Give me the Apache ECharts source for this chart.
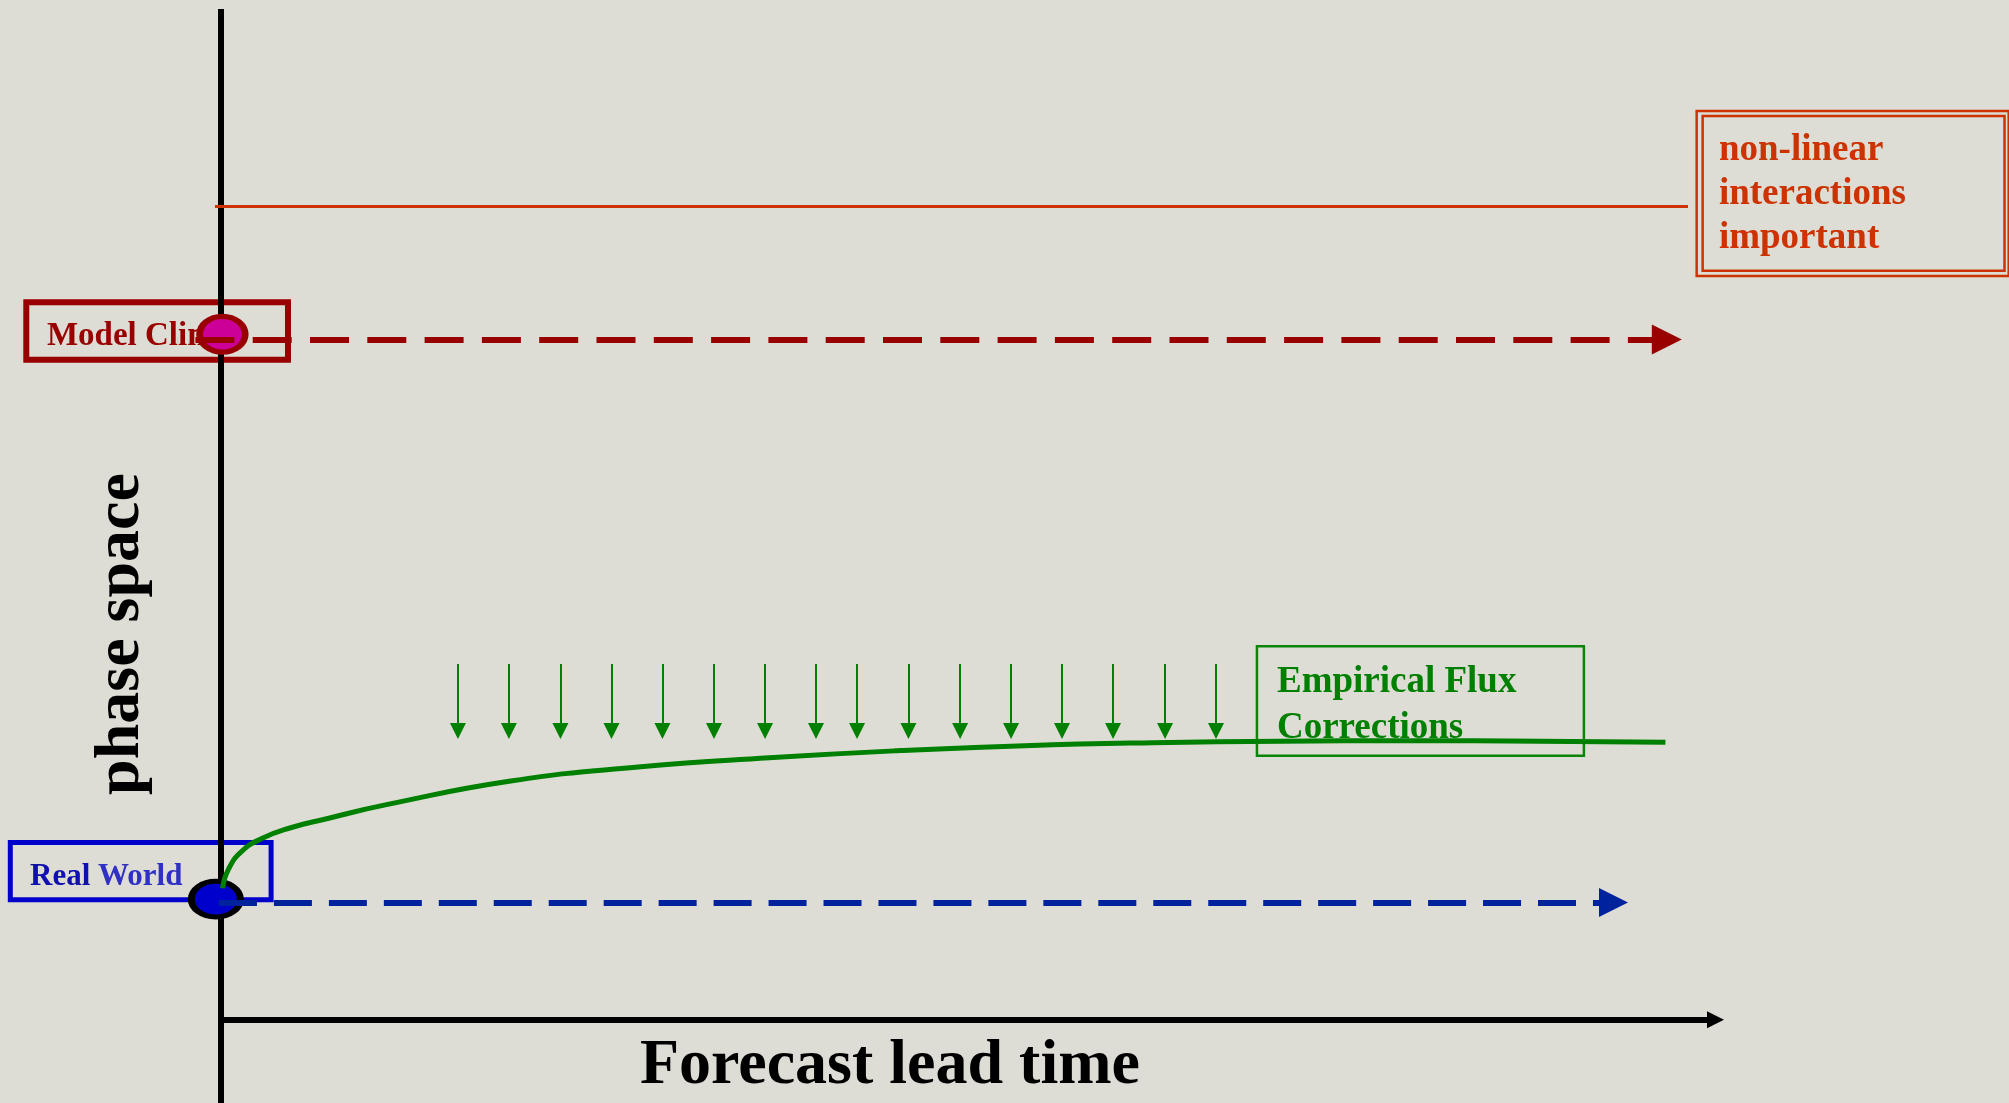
<!DOCTYPE html>
<html><head><meta charset="utf-8">
<style>html,body{margin:0;padding:0;background:#DEDDD5;} #c{width:2009px;height:1103px;}</style>
<script src="https://cdn.jsdelivr.net/npm/echarts@6/dist/echarts.min.js"></script>
</head><body><div id="c"></div>
<script>
// ---- data (lead time units on x, phase-space units on y; origin at the axes crossing) ----
const xRange = [-14.8, 119.7];
const yRange = [-8.3, 101.6];
const timeAxisLine = [[0, 0], [100.05, 0]];
const phaseAxisLine = [[0, -8.3], [0, 100.7]];
const nonlinearThreshold = [[-0.41, 81.0], [98.21, 81.0]];
const modelClimPath = [[-2.95, 67.77], [96.79, 67.77]];
const realWorldPath = [[-0.88, 11.68], [93.22, 11.68]];
const modelClimPoint = [0.09, 68.30];
const realWorldPoint = [-0.35, 12.01];
const curveX = [0.1, 0.5, 1.4, 2.8, 4.6, 7.0, 11.0, 19.5, 28.1, 36.7, 45.3, 53.8, 62.4, 71.0, 79.5, 88.3, 96.7];
const curveY = [13.1, 15.0, 16.8, 18.1, 19.1, 20.0, 21.4, 23.8, 25.2, 26.1, 26.8, 27.3, 27.6, 27.75, 27.8, 27.75, 27.65];
const correctionX = [15.86, 19.27, 22.72, 26.14, 29.55, 33.00, 36.42, 39.83, 42.58, 46.02, 49.48, 52.89, 56.30, 59.72, 63.20, 66.61];
const correctionTop = 35.44;
const correctionTip = 28.77;
const modelClimBox = [-13.04, 71.48, 4.48, 65.76];
const realWorldBox = [-14.11, 17.66, 3.35, 11.96];
const fluxBox = [69.35, 37.20, 91.24, 26.30];
const nonlinearOuterBox = [98.79, 90.54, 119.68, 74.11];
const nonlinearInnerBox = [99.19, 90.04, 119.40, 74.63];
const labelTexts = {
  modelClim: 'Model Clim',
  real: 'Real', world: 'World',
  nonlinear: ['non-linear', 'interactions', 'important'],
  flux: ['Empirical Flux', 'Corrections'],
  xName: 'Forecast lead time',
  yName: 'phase space'
};
const labelAnchors = {
  modelClim: [-11.66, 68.10],
  realWorld: [-12.79, 14.25],
  nonlinear: [100.28, 82.22],
  flux: [70.69, 31.30],
  xName: [44.78, -4.65],
  yName: [-6.64, 38.43]
};

// ---- build ----
const FONT = '"Liberation Serif","Times New Roman",serif';
const chart = echarts.init(document.getElementById('c'), null, {renderer: 'canvas'});

function rectPath(b) {
  const [x1, y1, x2, y2] = b;
  return [[x1, y1], [x2, y1], [x2, y2], [x1, y2], [x1, y1], [x2, y1]];
}
function boxSeries(b, color, width) {
  return {type: 'line', data: rectPath(b), symbol: 'none', silent: true, z: 1, animation: false,
    lineStyle: {color: color, width: width, join: 'miter', cap: 'butt'}};
}
const plainText = {fontFamily: FONT, fontWeight: 'bold', textBorderWidth: 0, textBorderColor: 'transparent',
  textShadowBlur: 0, opacity: 1};
function textSeries(pt, text, label) {
  return {type: 'scatter', data: [pt], symbolSize: 1, silent: true, z: 2, animation: false,
    itemStyle: {color: 'rgba(0,0,0,0)', opacity: 1},
    label: Object.assign({show: true, position: 'inside', formatter: function () { return text; }}, plainText, label)};
}
function arrowLine(coords, color, width, size, dash, offset, z) {
  return {type: 'lines', coordinateSystem: 'cartesian2d', silent: true, z: z || 5, animation: false,
    symbol: size ? ['none', 'triangle'] : ['none', 'none'], symbolSize: size || 1,
    lineStyle: {color: color, width: width, opacity: 1, type: dash || 'solid', dashOffset: offset || 0, cap: 'butt'},
    data: [{coords: coords}]};
}

const series = [
  boxSeries(modelClimBox, '#990000', 6),
  boxSeries(realWorldBox, '#0000CC', 5),
  boxSeries(fluxBox, '#0A850A', 2.5),
  boxSeries(nonlinearOuterBox, '#CC3300', 2.5),
  boxSeries(nonlinearInnerBox, '#CC3300', 2.5),
  textSeries(labelAnchors.modelClim, labelTexts.modelClim, {align: 'left', fontSize: 33, color: '#990000'}),
  textSeries(labelAnchors.realWorld, '{r|' + labelTexts.real + '} {w|' + labelTexts.world + '}',
    {align: 'left', fontSize: 31, color: '#1010B0',
     rich: {r: Object.assign({}, plainText, {fontSize: 31, color: '#1010B0'}),
            w: Object.assign({}, plainText, {fontSize: 31, color: '#3030C4'})}}),
  textSeries(labelAnchors.nonlinear, labelTexts.nonlinear.join('\n'), {align: 'left', fontSize: 37, lineHeight: 44, color: '#CC3300'}),
  textSeries(labelAnchors.flux, labelTexts.flux.join('\n'), {align: 'left', fontSize: 37, lineHeight: 46, color: '#007F00'}),
  textSeries(labelAnchors.xName, labelTexts.xName, {align: 'center', fontSize: 64, color: '#000000'}),
  textSeries(labelAnchors.yName, labelTexts.yName, {align: 'center', fontSize: 64, color: '#000000', rotate: 90}),
  arrowLine(phaseAxisLine, '#000000', 6, null, null, 0, 3),
  arrowLine(timeAxisLine, '#000000', 6, [18, 17], null, 0, 3),
  {type: 'scatter', silent: true, z: 4, animation: false, symbol: 'circle',
   data: [
     {value: modelClimPoint, symbolSize: [45.6, 35.7], itemStyle: {color: '#CC0099', borderColor: '#990000', borderWidth: 6, opacity: 1}},
     {value: realWorldPoint, symbolSize: [49, 35.7], itemStyle: {color: '#0000CC', borderColor: '#000000', borderWidth: 6, opacity: 1}}
   ]},
  arrowLine(nonlinearThreshold, '#CC3300', 3, null, null, 0, 5),
  arrowLine(modelClimPath, '#990000', 6, [30, 30], [39, 18.3], 38.9, 5),
  arrowLine(realWorldPath, '#00229C', 6, [29, 29], [38, 16.96], 43.92, 5),
  {type: 'line', silent: true, z: 5, animation: false, symbol: 'none', smooth: 0.5,
   data: curveX.map((x, i) => [x, curveY[i]]),
   lineStyle: {color: '#008000', width: 5, cap: 'butt'}},
  {type: 'lines', coordinateSystem: 'cartesian2d', silent: true, z: 5, animation: false,
   symbol: ['none', 'triangle'], symbolSize: [14, 16],
   lineStyle: {color: '#008000', width: 2, opacity: 1},
   data: correctionX.map(x => ({coords: [[x, correctionTop], [x, correctionTip]]}))}
];

chart.setOption({
  backgroundColor: '#DEDDD5',
  animation: false,
  grid: {left: 0, right: 0, top: 0, bottom: 0},
  xAxis: {type: 'value', min: xRange[0], max: xRange[1], show: false},
  yAxis: {type: 'value', min: yRange[0], max: yRange[1], show: false},
  series: series
});
</script>
</body></html>
